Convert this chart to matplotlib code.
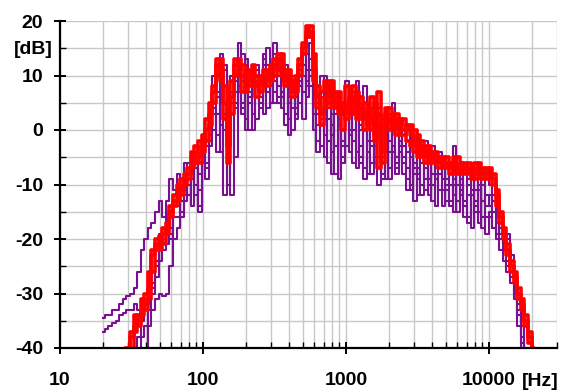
import numpy as np
import matplotlib
matplotlib.use("Agg")
import matplotlib.pyplot as plt
from matplotlib.ticker import FixedLocator, NullFormatter, FixedFormatter

nan = np.nan

# frequency grid: 1/12-octave steps starting at 20 Hz (121 points, up to ~20.5 kHz)
n_pts = 121
freqs = 20.0 * 2.0 ** (np.arange(n_pts) / 12.0)

# ---- red spectra (dB) ----
red1 = [nan]*7 + [-40, -38, -36, -34, -33,
  -32, -29, -23, -20, -19.5, -21, -17, -14, -12, -11.5, -11, -8,
  -7, -6.5, -5, -5, -3, 0, 3, 5, 10, 13, 8, -3,
  6, 12, 13, 10, 9, 11, 9, 8, 10, 8, 11, 9,
  12, 13, 10, 11, 8, 9, 7, 12, 14, 17, 19, 14,
  6, 3, 6, 8, 4, 7, 3, 5, 2, 6, 3, 7,
  2, 5, 1, 6, -2, 3, -4, 1, 2, 0, 3, 1,
  2, 0, 1, -2, -3, -2, -4, -5, -4, -6, -5, -6,
  -5, -7, -6, -7, -6, -7, -8, -7, -8, -7, -9, -8,
  -8, -9, -12, -15, -18, -21, -24, -27, -29, -31, -34, -37,
  -41]
red2 = [nan]*8 + [-41, -37, -35, -34,
  -30, -26, -22, -22, -20, -18, -19, -16, -13, -13, -9, -10,
  -8, -4, -6, -2, -4, 2, 5, 8, 12, 9, 2, 0,
  9, 13, 10, 7, 11, 8, 10, 6, 9, 11, 8, 10,
  13, 11, 14, 9, 10, 6, 10, 13, 16, 19, 17, 9,
  4, 7, 9, 5, 9, 4, 7, 3, 8, 4, 6, 2,
  6, 0, 4, 2, -1, 7, -6, 3, 4, 1, 2, -1,
  -1, 1, -1, -4, -1, -5, -3, -6, -5, -4, -7, -5,
  -7, -6, -8, -5, -8, -6, -7, -9, -6, -8, -7, -9,
  -7, -10, -11, -16, -19, -22, -25, -26, -30, -32, -35, -39,
  -42]
red3 = [nan]*7 + [-41, -37, -34, -36, -31,
  -33, -31, -26, -21, -22, -19, -18, -15, -14, -10, -12, -9,
  -9, -7, -3, -6, -1, -2, 1, 7, 13, 11, 5, -6,
  3, 10, 11, 12, 7, 9, 12, 10, 7, 9, 10, 12,
  10, 14, 12, 8, 11, 7, 8, 10, 15, 18, 18, 11,
  8, 1, 4, 9, 6, 5, 5, 0, 4, 3, 8, 4,
  4, 2, 3, 0, 5, -7, 1, 4, 0, 3, -1, 2,
  0, -2, -3, 0, -5, -3, -6, -3, -6, -5, -5, -7,
  -6, -8, -5, -8, -7, -8, -6, -8, -9, -6, -8, -7,
  -9, -8, -14, -17, -20, -23, -26, -28, -31, -33, -36, -38,
  -40]

# ---- purple spectra (dB) ----
purple1 = [-34.5, -34, -34, -33, -33, -32, -31, -30.5, -30, -29, -26, -22,
  -20, -18, -17, -15, -13, -16, -13, -9, -11, -8, -10, -6,
  -8, -5, -12, -3, -1, -6, 2, 0, 6, 14, 3, -10,
  7, 9, 16, 3, 12, 6, 9, 12, 5, 14, 7, 10,
  16, 8, 6, 12, 5, 10, 2, 8, 12, 9, 13, 5,
  -2, 6, 10, 2, -4, 5, 1, -3, 4, 0, 7, 9,
  1, 8, -2, 4, -5, 0, -8, 3, -2, 5, 1, -3,
  2, -4, -1, -8, -3, -6, -2, -9, -5, -7, -4, -9,
  -6, -10, -3, -8, -12, -7, -10, -6, -11, -9, -13, -8,
  -10, -13, -16, -19, -21, -24, -26, -28, -32, -36, -40, -44,
  nan]
purple2 = [-37, -36.5, -36, -35.5, -35, -34, -33.5, -33, -33, -32, -33, -32.5,
  -32, -31, -28, -24, -19, -18, -16, -20, -14, -12, -15, -9,
  -12, -8, -10, -15, -5, -9, -2, 4, -4, 6, 11, 2,
  -12, 5, 10, 14, 0, 8, 3, 11, 6, 12, 15, 9,
  7, 13, 4, 9, -1, 6, 3, 11, 7, 14, 8, 3,
  5, -3, 2, -6, 3, -8, 1, -5, 2, -4, 0, -7,
  -3, -9, 0, -6, 2, -10, -4, -1, -7, 1, -5, -2,
  -8, -4, -11, -6, -9, -12, -7, -10, -13, -8, -11, -14,
  -10, -13, -9, -15, -11, -14, -16, -12, -15, -17, -13, -16,
  -15, -18, -17, -20, -22, -25, -27, -30, -34, -39, -43, nan,
  nan]
purple3 = [nan]*11 + [-41,
  -40, -36, -33, -31, -30, -30.5, -30, -25, -20, -18, -16, -13,
  -10, -14, -6, -11, -4, 2, -3, 8, 3, -4, 12, 5,
  10, -5, 8, 4, 13, 7, 0, 9, 4, 13, 8, 5,
  9, 5, 12, 3, 8, 0, 6, 9, 2, 11, 16, 7,
  1, 4, -5, 7, -1, 3, -9, 5, -3, 8, -6, 2,
  -5, 3, -8, -2, -6, 4, -9, -1, 3, -4, -8, 0,
  -5, -11, -3, -7, -12, -5, -9, -3, -10, -14, -6, -11,
  -13, -8, -15, -10, -7, -13, -17, -11, -14, -10, -18, -12,
  -14, -12, -19, -17, -21, -20, -24, -27, -31, -35, -41, nan,
  nan]
purple4 = [nan]*9 + [-41, -38, -35,
  -31, -28, -30, -25, -22, -20, -17, -18, -12, -14, -9, -11,
  -6, -9, -4, -8, -2, -7, 4, 10, 7, 1, -12, 6,
  3, 7, 12, 5, 10, 0, 11, 6, 10, 3, 12, 8,
  14, 6, 9, 11, 2, 7, 4, 10, 14, 6, 10, 0,
  3, 10, -1, 4, -8, 6, 2, -2, 9, -1, 4, -4,
  0, -7, 5, -3, 1, -5, 2, -9, -4, 3, -6, -1,
  -3, -7, -10, -2, -8, -4, -11, -6, -3, -9, -8, -5,
  -9, -6, -12, -7, -10, -14, -9, -12, -8, -15, -10, -14,
  -12, -15, -14, -18, -20, -19, -23, -28, -33, -38, -43, nan,
  nan]
purple5 = [nan]*10 + [-41, -38,
  -36, -33, -29, -27, -24, -22, -21, -19, -16, -16, -13, -12,
  -10, -6, -7, -14, -6, -3, -1, 3, -1, 9, 0, -2,
  5, 4, 7, 9, 2, 5, 8, 2, 7, 9, 4, 11,
  5, 10, 7, 1, 6, 4, 9, 5, 10, 8, 11, 3,
  -4, 2, 6, -2, 1, -3, 4, -6, 2, 5, -2, 3,
  -6, 0, -4, -8, -3, -1, -5, 2, -9, -3, -7, -4,
  -6, -9, -5, -13, -7, -10, -5, -12, -8, -6, -11, -9,
  -11, -14, -10, -13, -9, -16, -12, -18, -13, -11, -16, -19,
  -16, -18, -20, -22, -24, -26, -28, -31, -36, -40, nan, nan,
  nan]

purple_series = [purple1, purple2, purple3, purple4, purple5]
red_series = [red1, red2, red3]

x_major = [10, 100, 1000, 10000]
x_major_labels = ["10", "100", "1000", "10000"]
y_major = [-40, -30, -20, -10, 0, 10, 20]
y_major_labels = ["-40", "-30", "-20", "-10", "0", "10", "20"]

PURPLE = "#781090"
RED = "#ff0000"
GRID = "#c8c8c8"
FS = 14

plt.rcParams['font.family'] = ['Liberation Sans', 'DejaVu Sans']

W, H = 565, 392
fig = plt.figure(figsize=(W / 100, H / 100), dpi=100)
ax = fig.add_axes([60 / W, 1 - 348 / H, (557 - 60) / W, (348 - 21) / H])

for s in purple_series:
    ax.plot(freqs, np.array(s, dtype=float), color=PURPLE, lw=1.5,
            drawstyle='steps-mid', zorder=3, clip_on=True)
for s in red_series:
    ax.plot(freqs, np.array(s, dtype=float), color=RED, lw=2.6,
            drawstyle='steps-mid', zorder=4, clip_on=True)

ax.set_xscale('log')
ax.set_xlim(10, 30000)
ax.set_ylim(-40, 20)

ax.xaxis.set_major_locator(FixedLocator(x_major))
ax.xaxis.set_major_formatter(FixedFormatter(x_major_labels))
minor_x = [m * 10 ** e for e in range(1, 5) for m in range(2, 10) if m * 10 ** e <= 30000]
ax.xaxis.set_minor_locator(FixedLocator(minor_x))
ax.xaxis.set_minor_formatter(NullFormatter())

ax.yaxis.set_major_locator(FixedLocator(y_major))
ax.yaxis.set_major_formatter(FixedFormatter(y_major_labels))
ax.yaxis.set_minor_locator(FixedLocator([-35, -25, -15, -5, 5, 15]))

ax.grid(True, which='both', color=GRID, lw=1.0, zorder=0)
ax.set_axisbelow(True)

for side in ['top', 'right']:
    ax.spines[side].set_visible(False)
for side in ['left', 'bottom']:
    ax.spines[side].set_color('black')
    ax.spines[side].set_linewidth(1.6)
    ax.spines[side].set_zorder(5)

ax.tick_params(axis='both', which='major', direction='inout', length=8,
               width=1.4, color='black', labelsize=FS)
ax.tick_params(axis='both', which='minor', direction='in', length=4,
               width=1.0, color='black')
ax.tick_params(axis='x', which='major', pad=13)
ax.tick_params(axis='y', which='major', pad=8)
for lab in ax.get_xticklabels() + ax.get_yticklabels():
    lab.set_fontweight('bold')

fig.text(53 / W, 1 - 50 / H, "[dB]", ha='right', va='center',
         fontsize=FS, fontweight='bold')
fig.text(522 / W, 1 - 382 / H, "[Hz]", ha='left', va='center',
         fontsize=FS, fontweight='bold')

fig.savefig("out.png", dpi=100)
